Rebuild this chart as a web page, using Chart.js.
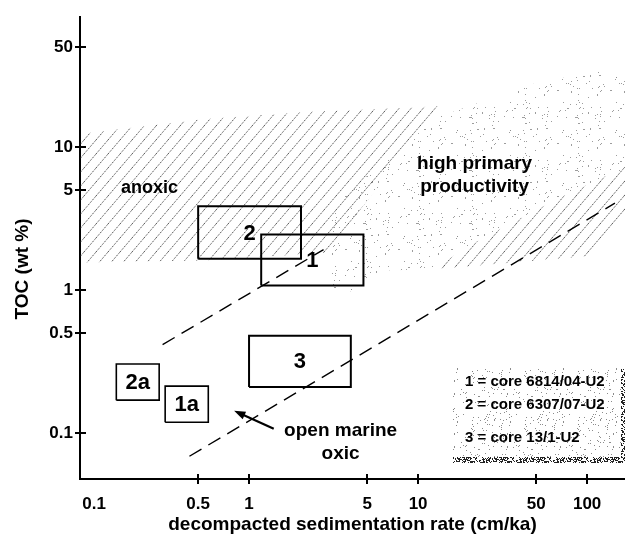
<!DOCTYPE html>
<html>
<head>
<meta charset="utf-8">
<script src="https://cdn.jsdelivr.net/npm/chart.js@4.4.1/dist/chart.umd.min.js"></script>
<style>
  html, body { margin: 0; padding: 0; background: #fff; }
  canvas { display: block; }
</style>
</head>
<body>
<canvas id="chart" width="625" height="541"></canvas>
<script>
// Axis tick values
const rateTicks = [0.1, 0.5, 1, 5, 10, 50, 100];
const tocTicks = [0.1, 0.5, 1, 5, 10, 50];

// Core fields: sedimentation rate range (cm/ka) and TOC range (wt %)
const boxNames   = ['1', '2', '3', '2a', '1a'];
const boxRateMin = [1.18, 0.50, 1.00, 0.164, 0.319];
const boxRateMax = [4.75, 2.03, 4.00, 0.294, 0.574];
const boxTocMin  = [1.08, 1.66, 0.21, 0.170, 0.119];
const boxTocMax  = [2.45, 3.86, 0.48, 0.304, 0.213];

// Anoxic field outline
const anoxicRate = [0.1, 0.53, 2.05, 13.6, 2.88, 0.53, 0.1];
const anoxicToc  = [12.4, 15.7, 17.6, 19.4, 1.83, 1.61, 1.56];

// High primary productivity field outline
const prodRate = [3.08, 6.94, 13.6, 46.2, 119, 170, 170, 63, 20.5, 12.25, 6.06, 3.77, 3.08];
const prodToc  = [3.75, 9.02, 16.5, 27.5, 34.4, 34.4, 7.1, 4.2, 2.08, 1.40, 1.375, 0.94, 1.05];

// Hatched band along the upper trend at high rates
const bandRate = [12.25, 97.3, 170, 170, 63, 20.5];
const bandToc  = [1.40, 1.72, 3.36, 7.33, 4.2, 2.08];

// Dashed trend lines
const upperTrendRate = [0.308, 2.76];
const upperTrendToc  = [0.416, 1.92];
const lowerTrendRate = [0.444, 146];
const lowerTrendToc  = [0.0688, 4.06];

// Key entries
const keyLines = ['1 = core 6814/04-U2', '2 = core 6307/07-U2', '3 = core 13/1-U2'];

const FONT = '"Liberation Sans", Arial, Helvetica, sans-serif';
const canvas = document.getElementById('chart');
const mainCtx = canvas.getContext('2d');

// Small deterministic generator for stipple textures
function makeRng(seed) {
  let s = seed;
  return () => (s = (s * 16807) % 2147483647) / 2147483647;
}
function stipplePattern(size, density, color, seed) {
  const tile = document.createElement('canvas');
  tile.width = tile.height = size;
  const g = tile.getContext('2d');
  g.fillStyle = color;
  const rnd = makeRng(seed);
  const n = Math.round(size * size * density);
  for (let i = 0; i < n; i++) {
    g.fillRect(Math.floor(rnd() * size), Math.floor(rnd() * size), 1, 1);
  }
  return mainCtx.createPattern(tile, 'repeat');
}
function hatchPattern(w, h, color, lw) {
  const tile = document.createElement('canvas');
  tile.width = w; tile.height = h;
  const g = tile.getContext('2d');
  g.strokeStyle = color;
  g.lineWidth = lw;
  g.setLineDash([1.2, 1]);
  g.beginPath();
  for (const k of [-1, 0, 1]) {
    g.moveTo(k * w, h);
    g.lineTo(k * w + w, 0);
  }
  g.stroke();
  return mainCtx.createPattern(tile, 'repeat');
}

const stippleFill = stipplePattern(53, 0.026, 'rgba(140,140,140,0.85)', 12345);
const keyFill = stipplePattern(53, 0.04, 'rgba(120,120,120,0.85)', 777);
const keyShadow = stipplePattern(37, 0.62, '#222', 4242);
const hatchFill = hatchPattern(12, 14, '#333', 0.9);

const toPoints = (xs, ys) => xs.map((x, i) => ({ x, y: ys[i] }));
const closed = pts => pts.concat([pts[0]]);
const rectPoints = i => [
  { x: boxRateMin[i], y: boxTocMin[i] },
  { x: boxRateMax[i], y: boxTocMin[i] },
  { x: boxRateMax[i], y: boxTocMax[i] },
  { x: boxRateMin[i], y: boxTocMax[i] },
  { x: boxRateMin[i], y: boxTocMin[i] }
];

const base = { showLine: true, pointRadius: 0, tension: 0, borderColor: '#000' };

const datasets = [
  Object.assign({}, base, {
    label: 'high primary productivity',
    data: closed(toPoints(prodRate, prodToc)),
    fill: 'shape', backgroundColor: stippleFill, borderWidth: 0, order: 10
  }),
  Object.assign({}, base, {
    label: 'anoxic',
    data: closed(toPoints(anoxicRate, anoxicToc)),
    fill: 'shape', backgroundColor: hatchFill, borderWidth: 0, order: 9
  }),
  Object.assign({}, base, {
    label: 'band',
    data: closed(toPoints(bandRate, bandToc)),
    fill: 'shape', backgroundColor: hatchFill, borderWidth: 0, order: 8
  }),
  Object.assign({}, base, {
    label: 'upper trend',
    data: toPoints(upperTrendRate, upperTrendToc),
    borderWidth: 1.4, borderDash: [14, 8], fill: false, order: 5
  }),
  Object.assign({}, base, {
    label: 'lower trend',
    data: toPoints(lowerTrendRate, lowerTrendToc),
    borderWidth: 1.4, borderDash: [14, 8], fill: false, order: 5
  })
];
boxNames.forEach((name, i) => {
  const small = name.length > 1;
  datasets.push(Object.assign({}, base, {
    label: 'core ' + name,
    data: rectPoints(i),
    borderWidth: small ? 1.6 : 2,
    fill: small ? 'shape' : false,
    backgroundColor: '#fff',
    order: small ? 2 : 3
  }));
});

// Overlay: crossing tick marks, labels, arrow and key
const overlay = {
  id: 'overlay',
  afterDraw(chart) {
    const { ctx, chartArea } = chart;
    const xs = chart.scales.x, ys = chart.scales.y;
    const px = v => xs.getPixelForValue(v);
    const py = v => ys.getPixelForValue(v);
    ctx.save();

    // crossing tick marks
    ctx.strokeStyle = '#000';
    ctx.lineWidth = 2;
    ctx.beginPath();
    rateTicks.slice(1).forEach(v => {
      const x = Math.round(px(v));
      ctx.moveTo(x, chartArea.bottom - 5);
      ctx.lineTo(x, chartArea.bottom + 5);
    });
    tocTicks.forEach(v => {
      const y = Math.round(py(v));
      ctx.moveTo(chartArea.left - 5, y);
      ctx.lineTo(chartArea.left + 6, y);
    });
    ctx.stroke();

    // y axis title
    ctx.fillStyle = '#000';
    ctx.font = 'bold 19px ' + FONT;
    ctx.textAlign = 'center';
    ctx.textBaseline = 'middle';
    ctx.save();
    ctx.translate(23, 269);
    ctx.rotate(-Math.PI / 2);
    ctx.fillText('TOC (wt %)', 0, 0);
    ctx.restore();

    // core field labels
    ctx.font = 'bold 22px ' + FONT;
    boxNames.forEach((name, i) => {
      const cx = px(Math.sqrt(boxRateMin[i] * boxRateMax[i]));
      const cy = py(Math.sqrt(boxTocMin[i] * boxTocMax[i]));
      ctx.fillText(name, cx, cy + 1);
    });

    // field names
    const notes = [
      { t: 'anoxic', x: 0.258, y: 5.16, s: 18 },
      { t: 'high primary', x: 21.6, y: 7.69, s: 19 },
      { t: 'productivity', x: 21.6, y: 5.33, s: 19 },
      { t: 'open marine', x: 3.48, y: 0.104, s: 19 },
      { t: 'oxic', x: 3.48, y: 0.072, s: 19 }
    ];
    notes.forEach(n => {
      ctx.font = 'bold ' + n.s + 'px ' + FONT;
      ctx.fillText(n.t, px(n.x), py(n.y));
    });

    // arrow towards the oxic corner
    const ax0 = px(1.40), ay0 = py(0.107), ax1 = px(0.816), ay1 = py(0.143);
    const ang = Math.atan2(ay1 - ay0, ax1 - ax0);
    ctx.lineWidth = 2.2;
    ctx.beginPath();
    ctx.moveTo(ax0, ay0);
    ctx.lineTo(ax1 - 6 * Math.cos(ang), ay1 - 6 * Math.sin(ang));
    ctx.stroke();
    ctx.beginPath();
    ctx.moveTo(ax1, ay1);
    ctx.lineTo(ax1 - 12 * Math.cos(ang - 0.35), ay1 - 12 * Math.sin(ang - 0.35));
    ctx.lineTo(ax1 - 12 * Math.cos(ang + 0.35), ay1 - 12 * Math.sin(ang + 0.35));
    ctx.closePath();
    ctx.fill();

    // key box
    const kx = 453, ky = 368, kr = chartArea.right, kb = 463;
    ctx.fillStyle = keyFill;
    ctx.fillRect(kx, ky, kr - kx - 4, kb - ky - 6);
    ctx.fillStyle = keyShadow;
    ctx.fillRect(kr - 4, ky, 4, kb - ky);
    ctx.fillRect(kx, kb - 6, kr - kx, 6);
    ctx.fillStyle = '#000';
    ctx.font = 'bold 15px ' + FONT;
    ctx.textAlign = 'left';
    [382, 405, 438].forEach((y, i) => ctx.fillText(keyLines[i], 465, y));

    ctx.restore();
  }
};

new Chart(canvas, {
  type: 'scatter',
  data: { datasets },
  options: {
    responsive: false,
    animation: false,
    devicePixelRatio: 1,
    events: [],
    layout: { padding: { top: 12, right: 0, left: 0, bottom: 0 } },
    plugins: { legend: { display: false }, tooltip: { enabled: false } },
    scales: {
      x: {
        type: 'logarithmic',
        position: 'bottom',
        min: 0.1,
        max: 167.5,
        afterFit: s => { s.height = 62; },
        afterBuildTicks: s => { s.ticks = rateTicks.map(v => ({ value: v })); },
        grid: { display: false, drawTicks: false },
        border: { display: true, color: '#000', width: 2 },
        ticks: {
          autoSkip: false,
          maxRotation: 0,
          padding: 15,
          color: '#000',
          font: { family: FONT, size: 17, weight: 'bold' },
          callback: v => (v === 0.1 ? '\u2007\u2007\u20070.1' : String(v))
        },
        title: {
          display: true,
          text: 'decompacted sedimentation rate (cm/ka)',
          color: '#000',
          font: { family: FONT, size: 19, weight: 'bold' },
          padding: { top: 0, bottom: 5 }
        }
      },
      y: {
        type: 'logarithmic',
        position: 'left',
        min: 0.0477,
        max: 81.3,
        afterFit: s => { s.width = 80; },
        afterBuildTicks: s => { s.ticks = tocTicks.map(v => ({ value: v })); },
        grid: { display: false, drawTicks: false },
        border: { display: true, color: '#000', width: 2 },
        ticks: {
          autoSkip: false,
          padding: 7,
          color: '#000',
          font: { family: FONT, size: 17, weight: 'bold' },
          callback: v => String(v)
        }
      }
    }
  },
  plugins: [overlay]
});
</script>
</body>
</html>
